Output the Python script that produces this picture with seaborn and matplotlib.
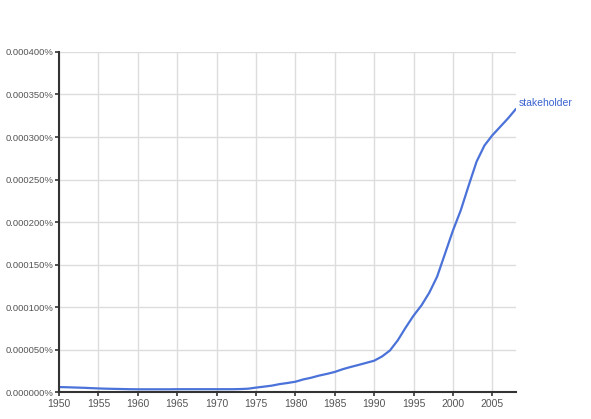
import matplotlib.pyplot as plt
import matplotlib.ticker as mticker
import seaborn as sns
import pandas as pd

years = list(range(1950, 2009))
# share of books, already in percent (x 1e-6)
share_e6 = [
    6.0, 5.8, 5.5, 5.2, 4.8, 4.4, 4.1, 3.9, 3.7, 3.5,
    3.4, 3.4, 3.4, 3.4, 3.4, 3.5, 3.5, 3.5, 3.5, 3.5,
    3.5, 3.5, 3.5, 3.7, 4.1, 5.4, 6.5, 7.7, 9.5, 10.8,
    12.3, 15.0, 17.0, 19.5, 21.5, 23.8, 27.0, 29.6, 32.0, 34.5,
    37.0, 42.0, 49.0, 61.0, 76.0, 90.0, 102.0, 117.0, 136.0, 163.0,
    190.0, 214.0, 243.0, 271.0, 290.0, 302.0, 312.0, 322.0, 333.0,
]
label = "stakeholder"

df = pd.DataFrame({"year": years, "share": [v * 1e-6 for v in share_e6]})

sns.set_style("white")
plt.rcParams["font.family"] = ["Liberation Sans", "DejaVu Sans"]

fig = plt.figure(figsize=(5.91, 4.19), dpi=100)
ax = fig.add_axes([0.1, 0.064, 0.773, 0.812])

sns.lineplot(data=df, x="year", y="share", ax=ax, color="#4a72d8", linewidth=1.6)

ax.set_xlim(1950, 2008)
ax.set_ylim(0, 0.0004)
ax.set_xticks(range(1950, 2006, 5))
ax.yaxis.set_major_locator(mticker.MultipleLocator(0.00005))
ax.yaxis.set_major_formatter(mticker.FuncFormatter(lambda v, p: f"{v:.6f}%"))
ax.grid(True, color="#dddddd", linewidth=1)
ax.set_axisbelow(True)
for s in ["top", "right"]:
    ax.spines[s].set_visible(False)
for s in ["left", "bottom"]:
    ax.spines[s].set_color("#333333")
    ax.spines[s].set_linewidth(1.5)
ax.tick_params(axis="both", direction="out", length=3, width=1.2, color="#333333",
               labelcolor="#555555", pad=1, left=True, bottom=True)
ax.tick_params(axis="y", labelsize=6.8)
ax.tick_params(axis="x", labelsize=7.5, pad=2)
ax.set_xlabel("")
ax.set_ylabel("")

ax.annotate(label, xy=(years[-1], df["share"].iloc[-1]), xytext=(2, 4),
            textcoords="offset points", color="#3b63d0", fontsize=7.5,
            ha="left", va="center", annotation_clip=False)

fig.savefig("out.png", dpi=100)
